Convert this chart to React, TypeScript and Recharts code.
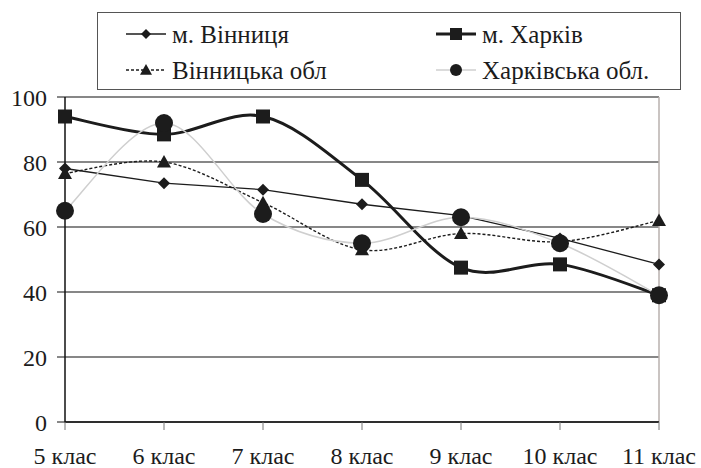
import { CartesianGrid, Line, LineChart, ReferenceLine, XAxis, YAxis } from "recharts";

const classes = ["5 клас", "6 клас", "7 клас", "8 клас", "9 клас", "10 клас", "11 клас"];
const vinnytsiaCity = [78, 73.5, 71.5, 67, 63.5, 56.5, 48.5];
const kharkivCity = [94, 88.5, 94, 74.5, 47.5, 48.5, 39];
const vinnytsiaRegion = [76.5, 80, 67.5, 53, 58, 55.5, 62];
const kharkivRegion = [65, 92, 64, 55, 63, 55, 39];
const yTicks = [0, 20, 40, 60, 80, 100];

const names = ["м. Вінниця", "м. Харків", "Вінницька обл", "Харківська обл."];

const data = classes.map((c, i) => ({
  name: c,
  vc: vinnytsiaCity[i],
  kc: kharkivCity[i],
  vr: vinnytsiaRegion[i],
  kr: kharkivRegion[i],
}));

const FONT = "Liberation Serif, DejaVu Serif, serif";
const INK = "#1c1c1c";

// excel-like smoothed line (catmull-rom through the points)
const smooth = (ctx: any) => {
  let pts: number[][] = [];
  return {
    areaStart() {},
    areaEnd() {},
    lineStart() {
      pts = [];
    },
    lineEnd() {
      if (!pts.length) return;
      ctx.moveTo(pts[0][0], pts[0][1]);
      for (let i = 0; i < pts.length - 1; i++) {
        const p0 = pts[i - 1] ?? pts[i];
        const p1 = pts[i];
        const p2 = pts[i + 1];
        const p3 = pts[i + 2] ?? p2;
        ctx.bezierCurveTo(
          p1[0] + (p2[0] - p0[0]) / 6,
          p1[1] + (p2[1] - p0[1]) / 6,
          p2[0] - (p3[0] - p1[0]) / 6,
          p2[1] - (p3[1] - p1[1]) / 6,
          p2[0],
          p2[1]
        );
      }
    },
    point(x: number, y: number) {
      pts.push([+x, +y]);
    },
  };
};

const Diamond = ({ cx, cy, s = 6 }: any) => (
  <path d={`M${cx},${cy - s}L${cx + s},${cy}L${cx},${cy + s}L${cx - s},${cy}Z`} fill={INK} />
);
const Square = ({ cx, cy, s = 7 }: any) => (
  <rect x={cx - s} y={cy - s} width={s * 2} height={s * 2} fill={INK} />
);
const Triangle = ({ cx, cy, s = 7 }: any) => (
  <path d={`M${cx},${cy - s}L${cx + s},${cy + s * 0.8}L${cx - s},${cy + s * 0.8}Z`} fill={INK} />
);
const Dot = ({ cx, cy, s = 9 }: any) => <circle cx={cx} cy={cy} r={s} fill={INK} />;

const LegendItem = ({ label, marker, stroke, width, dash }: any) => (
  <div style={{ display: "flex", alignItems: "center", height: 34 }}>
    <svg width={44} height={20} style={{ marginRight: 4 }}>
      <line x1={2} y1={10} x2={42} y2={10} stroke={stroke} strokeWidth={width} strokeDasharray={dash} />
      {marker}
    </svg>
    <span>{label}</span>
  </div>
);

export default function App() {
  return (
    <div style={{ position: "absolute", left: 0, top: 0, width: 701, height: 468, background: "#fff" }}>
      <LineChart width={701} height={468} data={data} margin={{ top: 97, right: 42, left: 0, bottom: 0 }}>
        <CartesianGrid vertical={false} stroke="#111" strokeWidth={1.2} />
        <ReferenceLine x="11 клас" stroke="#b8b0ae" strokeWidth={1.5} />
        <XAxis
          dataKey="name"
          height={46}
          axisLine={{ stroke: "#111", strokeWidth: 1.5 }}
          tickLine={{ stroke: "#777" }}
          tickSize={8}
          tickMargin={17}
          interval={0}
          tick={{ fill: INK, fontSize: 24, fontFamily: FONT }}
        />
        <YAxis
          domain={[0, 100]}
          ticks={yTicks}
          width={65}
          axisLine={{ stroke: "#111", strokeWidth: 1.5 }}
          tickLine={{ stroke: "#111" }}
          tickSize={8}
          tickMargin={10}
          tick={{ fill: INK, fontSize: 24, fontFamily: FONT }}
        />
        <Line
          dataKey="vc"
          name={names[0]}
          type="linear"
          stroke={INK}
          strokeWidth={1.3}
          isAnimationActive={false}
          dot={(p: any) => <Diamond key={p.index} cx={p.cx} cy={p.cy} />}
        />
        <Line
          dataKey="kc"
          name={names[1]}
          type={smooth as any}
          stroke={INK}
          strokeWidth={3}
          isAnimationActive={false}
          dot={(p: any) => <Square key={p.index} cx={p.cx} cy={p.cy} />}
        />
        <Line
          dataKey="vr"
          name={names[2]}
          type={smooth as any}
          stroke={INK}
          strokeWidth={1.4}
          strokeDasharray="3 2"
          isAnimationActive={false}
          dot={(p: any) => <Triangle key={p.index} cx={p.cx} cy={p.cy} />}
        />
        <Line
          dataKey="kr"
          name={names[3]}
          type={smooth as any}
          stroke="#cfcfcf"
          strokeWidth={1.5}
          isAnimationActive={false}
          dot={(p: any) => <Dot key={p.index} cx={p.cx} cy={p.cy} />}
        />
      </LineChart>
      <div
        style={{
          position: "absolute",
          left: 97,
          top: 12,
          width: 584,
          height: 78,
          border: "1.5px solid #555",
          background: "#fff",
          boxSizing: "border-box",
          display: "grid",
          gridTemplateColumns: "310px 1fr",
          padding: "4px 0 0 26px",
          fontFamily: FONT,
          fontSize: 25,
          color: INK,
          lineHeight: 1,
        }}
      >
        <LegendItem label={names[0]} stroke={INK} width={1.3} marker={<Diamond cx={22} cy={10} s={5} />} />
        <LegendItem label={names[1]} stroke={INK} width={3} marker={<Square cx={22} cy={10} s={6} />} />
        <LegendItem label={names[2]} stroke={INK} width={1.3} dash="3 2" marker={<Triangle cx={22} cy={10} s={6} />} />
        <LegendItem label={names[3]} stroke="#cfcfcf" width={1.5} marker={<Dot cx={22} cy={10} s={6} />} />
      </div>
    </div>
  );
}
